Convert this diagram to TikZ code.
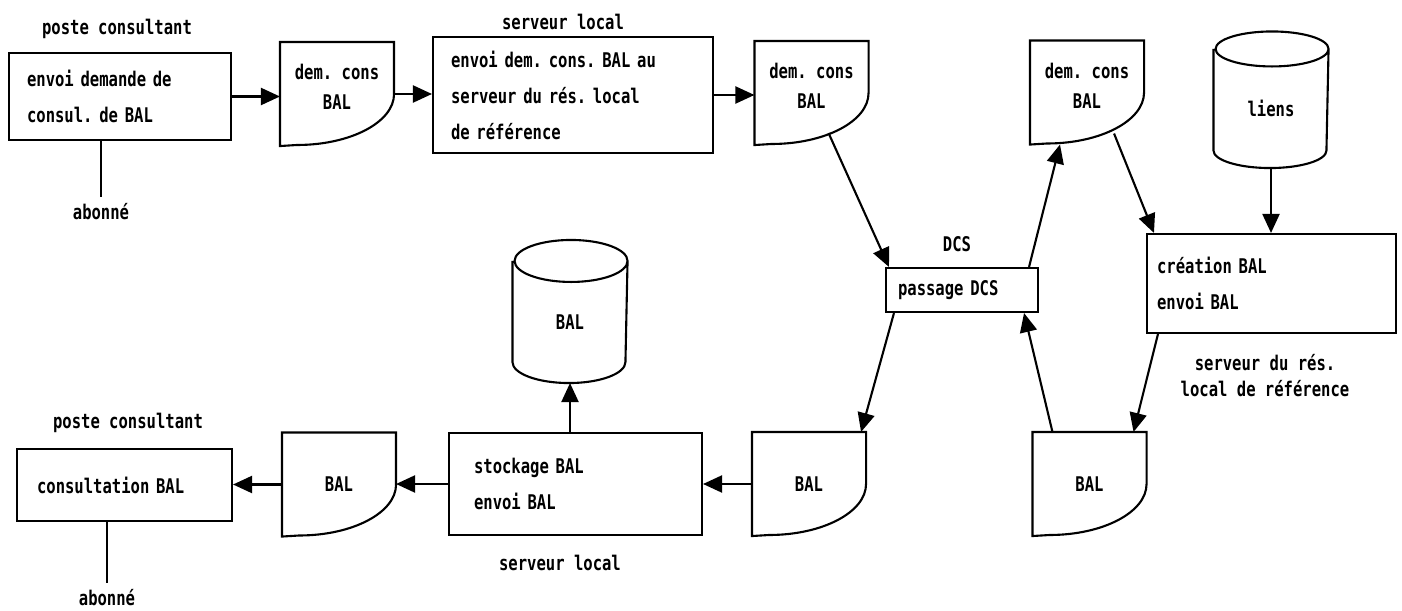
\documentclass[tikz,border=0pt]{standalone}
\usepackage{fontspec}
\newfontfamily\terminalfont[FakeStretch=0.77]{DejaVu Sans Mono}
\newcommand\screenfont[1]{\terminalfont\bfseries\fontsize{11.5}{#1}\selectfont
  \spaceskip=0.4635em\relax\frenchspacing}
\usetikzlibrary{arrows.meta}

\begin{document}
\begin{tikzpicture}[x=0.02cm, y=-0.02cm, line width=1.2pt,
    font=\screenfont{20.5},
    >={Triangle[length=0.38cm,width=0.34cm]},
    process/.style ={rectangle, draw, align=left, inner xsep=0.36cm},
    document/.style ={rectangle, inner sep=0pt, minimum width=2.24cm,
      minimum height=2.04cm, align=center, font=\screenfont{17}},
    request/.style ={document, execute at end node={\rule[-8pt]{0pt}{8pt}}},
    store/.style ={rectangle, inner sep=0pt, minimum width=2.26cm}]
   \useasboundingbox (0,0) rectangle (1402,611);
   % chaine de la demande
   \node[process, text width=3.72cm, minimum height=1.74cm] (envoi) at (120,96.5) {envoi demande de\\consul. de BAL};
   \node[request] (demcons) at (337,94) {dem. cons\\BAL};
   \node[process, text width=4.88cm, minimum height=2.32cm] (relais) at (573,95) {envoi dem. cons. BAL au\\serveur du rés. local\\de référence};
   \node[request] (demlocal) at (811.5,93) {dem. cons\\BAL};
   \node[process, inner xsep=0.24cm, text width=2.56cm, minimum height=0.88cm] (passage) at (962,290) {passage DCS};
   \node[request] (demref) at (1087,92.5) {dem. cons\\BAL};
   \node[store, minimum height=2.34cm] (liens) at (1271,108.5) {liens};
   \node[process, inner xsep=0.2cm, text width=4.58cm, minimum height=1.98cm] (creation) at (1271.5,283.5) {création BAL\\envoi BAL};
   % chaine du retour
   \node[document] (balref) at (1089.5,484) {BAL};
   \node[document] (balrecu) at (809,484) {BAL};
   \node[process, inner xsep=0.5cm, text width=4.06cm, minimum height=2.04cm] (stockage) at (575.5,484) {stockage BAL\\envoi BAL};
   \node[store, minimum height=2.4cm] (boite) at (570,322) {BAL};
   \node[document] (balposte) at (339,484.5) {BAL};
   \node[process, inner xsep=0.4cm, text width=3.5cm, minimum height=1.44cm] (consult) at (124.5,485) {consultation BAL};
   % legendes
   \node (posteA) at (117,29) {poste consultant};
   \node (abonneA) at (101,212) {abonné};
   \node (serveurA) at (563,22) {serveur local};
   \node (dcs) at (957,244) {DCS};
   \node[align=center, font=\screenfont{14.5}] (serveurref) at (1265,375.5) {serveur du rés.\\local de référence};
   \node (posteB) at (128,423) {poste consultant};
   \node (abonneB) at (107,598) {abonné};
   \node (serveurB) at (560,563) {serveur local};
   % contours
   \foreach \d in {demcons,demlocal,demref,balref,balrecu,balposte}
      \draw (\d.east) arc[start angle=0, end angle=-90, x radius=1.94cm, y radius=1.02cm]
         -- (\d.south west) -- (\d.north west) -- (\d.north east) -- cycle;
   \foreach \c/\r in {liens/0.35cm,boite/0.42cm}
      \draw (\c.north west) -- ([yshift=\r]\c.south west)
         arc[start angle=180, end angle=360, x radius=1.13cm, y radius=\r]
         -- (\c.north east)
         arc[start angle=0, end angle=180, x radius=1.13cm, y radius=\r]
         arc[start angle=180, end angle=360, x radius=1.13cm, y radius=\r];
   % liaisons
   \draw (envoi.south -| abonneA) -- (abonneA.north);
   \draw (consult.south -| abonneB) -- (abonneB.north);
   \draw[->] (envoi.east) -- (envoi.east -| demcons.west);
   \draw[->] (demcons.east) -- (demcons.east -| relais.west);
   \draw[->] (relais.east) -- (relais.east -| demlocal.west);
   \draw[->] ([shift={(-40,-12)}]demlocal.south east) -- ([shift={(4,0)}]passage.north west);
   \draw[->] ([shift={(-10,0)}]passage.north east) -- ([shift={(-27,0)}]demref.south);
   \draw[->] ([shift={(-30,-11)}]demref.south east) -- ([shift={(8,0)}]creation.north west);
   \draw[->] (liens.south) -- (liens.south |- creation.north);
   \draw[->] ([shift={(12,0)}]creation.south west) -- ([shift={(-13,0)}]balref.north east);
   \draw[->] ([shift={(20,0)}]balref.north west) -- ([shift={(-15,0)}]passage.south east);
   \draw[->] ([shift={(9,0)}]passage.south west) -- ([shift={(-5,0)}]balrecu.north east);
   \draw[->] (balrecu.west) -- (balrecu.west -| stockage.east);
   \draw[->] (boite.south |- stockage.north) -- (boite.south);
   \draw[->] (stockage.west) -- (stockage.west -| balposte.east);
   \draw[->] (balposte.west) -- (balposte.west -| consult.east);
\end{tikzpicture}
\end{document}
